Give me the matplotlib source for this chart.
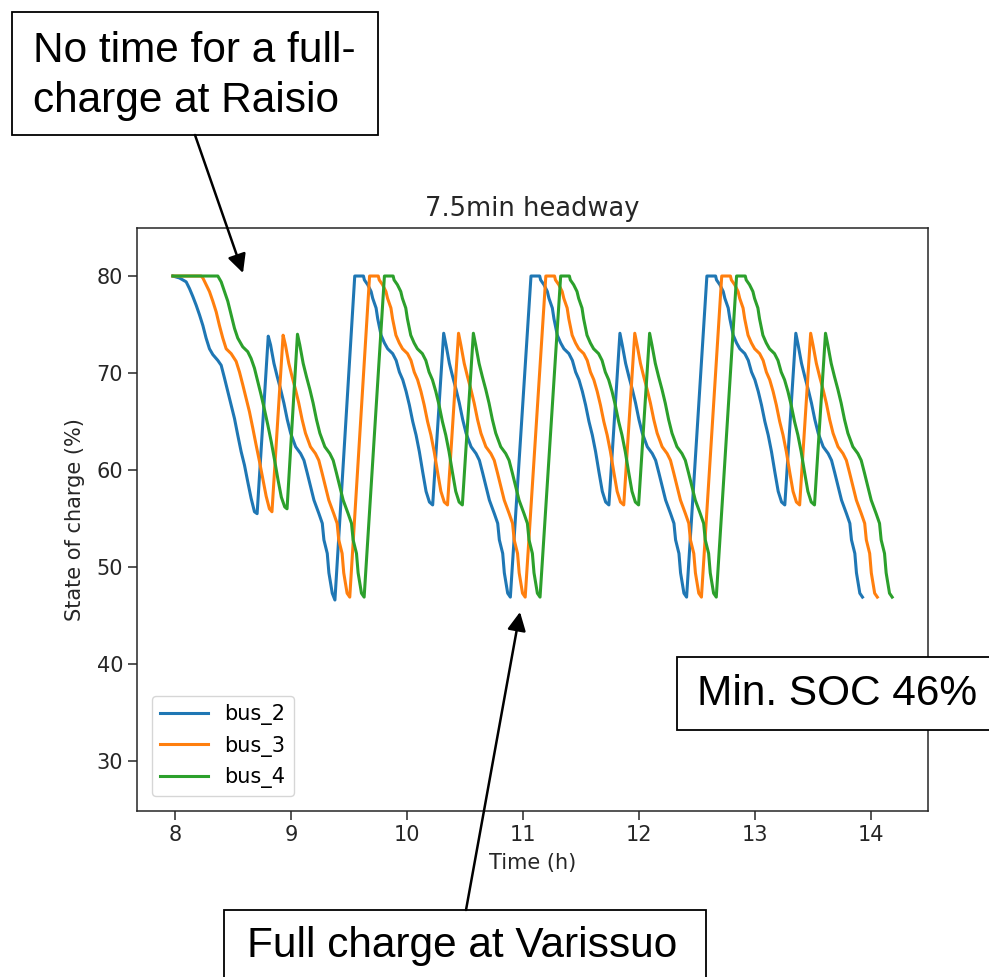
import matplotlib
matplotlib.use("Agg")
import matplotlib.pyplot as plt
from matplotlib.patches import Rectangle, FancyArrowPatch

# ---- State of charge traces (time in hours, SOC in %) ----
bus_2_hours = [
    7.977, 8.034, 8.092, 8.121, 8.149, 8.178, 8.207, 8.236, 8.264, 8.293, 8.322, 8.365,
    8.394, 8.422, 8.451, 8.480, 8.509, 8.537, 8.566, 8.595, 8.623, 8.652, 8.681, 8.704,
    8.800, 8.820, 8.849, 8.878, 8.907, 8.935, 8.964, 8.993, 9.036, 9.079, 9.108, 9.136,
    9.165, 9.194, 9.237, 9.266, 9.280, 9.309, 9.323, 9.352, 9.375,
    9.546, 9.621, 9.629, 9.658, 9.687, 9.701, 9.730, 9.744, 9.773, 9.802, 9.830, 9.873,
    9.903, 9.931, 9.960, 9.989, 10.017, 10.046, 10.075, 10.103, 10.132, 10.161, 10.190,
    10.218, 10.313, 10.333, 10.362, 10.391, 10.420, 10.448, 10.477, 10.506, 10.549,
    10.592, 10.621, 10.649, 10.678, 10.707, 10.750, 10.779, 10.793, 10.822, 10.836,
    10.865, 10.888,
    11.066, 11.141, 11.149, 11.178, 11.207, 11.221, 11.250, 11.264, 11.293, 11.322,
    11.350, 11.393, 11.423, 11.451, 11.480, 11.509, 11.537, 11.566, 11.595, 11.623,
    11.652, 11.681, 11.710, 11.738, 11.833, 11.853, 11.882, 11.911, 11.940, 11.968,
    11.997, 12.026, 12.069, 12.112, 12.141, 12.169, 12.198, 12.227, 12.270, 12.299,
    12.313, 12.342, 12.356, 12.385, 12.408,
    12.583, 12.658, 12.666, 12.695, 12.724, 12.738, 12.767, 12.781, 12.810, 12.839,
    12.867, 12.910, 12.940, 12.968, 12.997, 13.026, 13.054, 13.083, 13.112, 13.140,
    13.169, 13.198, 13.227, 13.255, 13.350, 13.370, 13.399, 13.428, 13.457, 13.485,
    13.514, 13.543, 13.586, 13.629, 13.658, 13.686, 13.715, 13.744, 13.787, 13.816,
    13.830, 13.859, 13.873, 13.902, 13.925,
]
bus_2_soc = [
    80.0, 79.8, 79.4, 78.7, 77.9, 77.0, 76.0, 74.9, 73.6, 72.5, 71.9, 71.3,
    70.8, 69.5, 68.1, 66.7, 65.3, 63.6, 61.9, 60.5, 58.8, 57.1, 55.7, 55.5,
    73.8, 72.9, 71.0, 69.6, 68.3, 66.9, 65.2, 63.8, 62.4, 61.7, 61.0, 59.7,
    58.3, 56.9, 55.5, 54.5, 52.8, 51.4, 49.4, 47.3, 46.6,
    80.0, 80.0, 79.6, 79.1, 78.4, 77.7, 76.7, 75.6, 73.9, 73.1, 72.5, 72.0,
    71.3, 70.1, 69.3, 68.1, 66.7, 65.0, 63.6, 61.9, 59.8, 57.8, 56.7,
    56.4, 74.1, 72.9, 71.0, 69.6, 68.3, 66.9, 65.2, 63.8, 62.4,
    61.7, 61.0, 59.7, 58.3, 56.9, 55.5, 54.5, 52.8, 51.4, 49.4,
    47.3, 46.9,
    80.0, 80.0, 79.6, 79.1, 78.4, 77.7, 76.7, 75.6, 73.9, 73.1,
    72.5, 72.0, 71.3, 70.1, 69.3, 68.1, 66.7, 65.0, 63.6, 61.9,
    59.8, 57.8, 56.7, 56.4, 74.1, 72.9, 71.0, 69.6, 68.3, 66.9,
    65.2, 63.8, 62.4, 61.7, 61.0, 59.7, 58.3, 56.9, 55.5, 54.5,
    52.8, 51.4, 49.4, 47.3, 46.9,
    80.0, 80.0, 79.6, 79.1, 78.4, 77.7, 76.7, 75.6, 73.9, 73.1,
    72.5, 72.0, 71.3, 70.1, 69.3, 68.1, 66.7, 65.0, 63.6, 61.9,
    59.8, 57.8, 56.7, 56.4, 74.1, 72.9, 71.0, 69.6, 68.3, 66.9,
    65.2, 63.8, 62.4, 61.7, 61.0, 59.7, 58.3, 56.9, 55.5, 54.5,
    52.8, 51.4, 49.4, 47.3, 46.9,
]

bus_3_hours = [
    7.977, 8.220, 8.236, 8.264, 8.293, 8.322, 8.351, 8.379, 8.408, 8.437, 8.480, 8.523,
    8.552, 8.580, 8.609, 8.638, 8.667, 8.695, 8.724, 8.753, 8.782, 8.810, 8.832,
    8.928, 8.948, 8.977, 9.006, 9.035, 9.063, 9.092, 9.121, 9.164, 9.207, 9.236, 9.264,
    9.293, 9.322, 9.365, 9.394, 9.408, 9.437, 9.451, 9.480, 9.503,
    9.674, 9.749, 9.757, 9.786, 9.815, 9.829, 9.858, 9.872, 9.901, 9.930, 9.958, 10.001,
    10.031, 10.059, 10.088, 10.117, 10.145, 10.174, 10.203, 10.231, 10.260, 10.289,
    10.318, 10.346, 10.441, 10.461, 10.490, 10.519, 10.548, 10.576, 10.605, 10.634,
    10.677, 10.720, 10.749, 10.777, 10.806, 10.835, 10.878, 10.907, 10.921, 10.950,
    10.964, 10.993, 11.016,
    11.194, 11.269, 11.277, 11.306, 11.335, 11.349, 11.378, 11.392, 11.421, 11.450,
    11.478, 11.521, 11.551, 11.579, 11.608, 11.637, 11.665, 11.694, 11.723, 11.751,
    11.780, 11.809, 11.838, 11.866, 11.961, 11.981, 12.010, 12.039, 12.068, 12.096,
    12.125, 12.154, 12.197, 12.240, 12.269, 12.297, 12.326, 12.355, 12.398, 12.427,
    12.441, 12.470, 12.484, 12.513, 12.536,
    12.711, 12.786, 12.794, 12.823, 12.852, 12.866, 12.895, 12.909, 12.938, 12.967,
    12.995, 13.038, 13.068, 13.096, 13.125, 13.154, 13.182, 13.211, 13.240, 13.268,
    13.297, 13.326, 13.355, 13.383, 13.478, 13.498, 13.527, 13.556, 13.585, 13.613,
    13.642, 13.671, 13.714, 13.757, 13.786, 13.814, 13.843, 13.872, 13.915, 13.944,
    13.958, 13.987, 14.001, 14.030, 14.053,
]
bus_3_soc = [
    80.0, 80.0, 79.8, 79.1, 78.4, 77.4, 76.3, 74.9, 73.6, 72.5, 72.0, 71.2,
    70.1, 68.8, 67.4, 66.0, 64.3, 62.6, 60.9, 59.1, 57.3, 56.0, 55.7,
    73.9, 72.9, 71.0, 69.6, 68.3, 66.9, 65.2, 63.8, 62.4, 61.7, 61.0, 59.7,
    58.3, 56.9, 55.5, 54.5, 52.8, 51.4, 49.4, 47.3, 46.9,
    80.0, 80.0, 79.6, 79.1, 78.4, 77.7, 76.7, 75.6, 73.9, 73.1, 72.5, 72.0,
    71.3, 70.1, 69.3, 68.1, 66.7, 65.0, 63.6, 61.9, 59.8, 57.8,
    56.7, 56.4, 74.1, 72.9, 71.0, 69.6, 68.3, 66.9, 65.2, 63.8,
    62.4, 61.7, 61.0, 59.7, 58.3, 56.9, 55.5, 54.5, 52.8, 51.4,
    49.4, 47.3, 46.9,
    80.0, 80.0, 79.6, 79.1, 78.4, 77.7, 76.7, 75.6, 73.9, 73.1,
    72.5, 72.0, 71.3, 70.1, 69.3, 68.1, 66.7, 65.0, 63.6, 61.9,
    59.8, 57.8, 56.7, 56.4, 74.1, 72.9, 71.0, 69.6, 68.3, 66.9,
    65.2, 63.8, 62.4, 61.7, 61.0, 59.7, 58.3, 56.9, 55.5, 54.5,
    52.8, 51.4, 49.4, 47.3, 46.9,
    80.0, 80.0, 79.6, 79.1, 78.4, 77.7, 76.7, 75.6, 73.9, 73.1,
    72.5, 72.0, 71.3, 70.1, 69.3, 68.1, 66.7, 65.0, 63.6, 61.9,
    59.8, 57.8, 56.7, 56.4, 74.1, 72.9, 71.0, 69.6, 68.3, 66.9,
    65.2, 63.8, 62.4, 61.7, 61.0, 59.7, 58.3, 56.9, 55.5, 54.5,
    52.8, 51.4, 49.4, 47.3, 46.9,
]

bus_4_hours = [
    7.977, 8.365, 8.394, 8.422, 8.451, 8.480, 8.509, 8.537, 8.580, 8.623, 8.652, 8.681,
    8.710, 8.739, 8.768, 8.797, 8.826, 8.855, 8.884, 8.913, 8.942, 8.962,
    9.052, 9.072, 9.101, 9.130, 9.159, 9.187, 9.216, 9.245, 9.288, 9.331, 9.360, 9.388,
    9.417, 9.446, 9.489, 9.518, 9.532, 9.561, 9.575, 9.604, 9.627,
    9.802, 9.877, 9.885, 9.914, 9.943, 9.957, 9.986, 10.000, 10.029, 10.058, 10.086,
    10.129, 10.159, 10.187, 10.216, 10.245, 10.273, 10.302, 10.331, 10.359, 10.388,
    10.417, 10.446, 10.474, 10.569, 10.589, 10.618, 10.647, 10.676, 10.704, 10.733,
    10.762, 10.805, 10.848, 10.877, 10.905, 10.934, 10.963, 11.006, 11.035, 11.049,
    11.078, 11.092, 11.121, 11.144,
    11.322, 11.397, 11.405, 11.434, 11.463, 11.477, 11.506, 11.520, 11.549, 11.578,
    11.606, 11.649, 11.679, 11.707, 11.736, 11.765, 11.793, 11.822, 11.851, 11.879,
    11.908, 11.937, 11.966, 11.994, 12.089, 12.109, 12.138, 12.167, 12.196, 12.224,
    12.253, 12.282, 12.325, 12.368, 12.397, 12.425, 12.454, 12.483, 12.526, 12.555,
    12.569, 12.598, 12.612, 12.641, 12.664,
    12.839, 12.914, 12.922, 12.951, 12.980, 12.994, 13.023, 13.037, 13.066, 13.095,
    13.123, 13.166, 13.196, 13.224, 13.253, 13.282, 13.310, 13.339, 13.368, 13.396,
    13.425, 13.454, 13.483, 13.511, 13.606, 13.626, 13.655, 13.684, 13.713, 13.741,
    13.770, 13.799, 13.842, 13.885, 13.914, 13.942, 13.971, 14.000, 14.043, 14.072,
    14.086, 14.115, 14.129, 14.158, 14.181,
]
bus_4_soc = [
    80.0, 80.0, 79.4, 78.4, 77.4, 76.0, 74.6, 73.6, 72.7, 72.2, 71.5, 70.5,
    69.1, 67.7, 66.2, 64.6, 62.9, 61.0, 59.0, 57.2, 56.2, 56.0,
    74.0, 72.9, 71.0, 69.6, 68.3, 66.9, 65.2, 63.8, 62.4, 61.7, 61.0, 59.7,
    58.3, 56.9, 55.5, 54.5, 52.8, 51.4, 49.4, 47.3, 46.9,
    80.0, 80.0, 79.6, 79.1, 78.4, 77.7, 76.7, 75.6, 73.9, 73.1, 72.5,
    72.0, 71.3, 70.1, 69.3, 68.1, 66.7, 65.0, 63.6, 61.9, 59.8,
    57.8, 56.7, 56.4, 74.1, 72.9, 71.0, 69.6, 68.3, 66.9, 65.2,
    63.8, 62.4, 61.7, 61.0, 59.7, 58.3, 56.9, 55.5, 54.5, 52.8,
    51.4, 49.4, 47.3, 46.9,
    80.0, 80.0, 79.6, 79.1, 78.4, 77.7, 76.7, 75.6, 73.9, 73.1,
    72.5, 72.0, 71.3, 70.1, 69.3, 68.1, 66.7, 65.0, 63.6, 61.9,
    59.8, 57.8, 56.7, 56.4, 74.1, 72.9, 71.0, 69.6, 68.3, 66.9,
    65.2, 63.8, 62.4, 61.7, 61.0, 59.7, 58.3, 56.9, 55.5, 54.5,
    52.8, 51.4, 49.4, 47.3, 46.9,
    80.0, 80.0, 79.6, 79.1, 78.4, 77.7, 76.7, 75.6, 73.9, 73.1,
    72.5, 72.0, 71.3, 70.1, 69.3, 68.1, 66.7, 65.0, 63.6, 61.9,
    59.8, 57.8, 56.7, 56.4, 74.1, 72.9, 71.0, 69.6, 68.3, 66.9,
    65.2, 63.8, 62.4, 61.7, 61.0, 59.7, 58.3, 56.9, 55.5, 54.5,
    52.8, 51.4, 49.4, 47.3, 46.9,
]

bus_names = ["bus_2", "bus_3", "bus_4"]
x_ticks = [8, 9, 10, 11, 12, 13, 14]
y_ticks = [30, 40, 50, 60, 70, 80]

title_text = "7.5min headway"
note_raisio = "No time for a full-\ncharge at Raisio"
note_min_soc = "Min. SOC 46%"
note_varissuo = "Full charge at Varissuo"

W, H = 989, 977
fig = plt.figure(figsize=(W / 100, H / 100), dpi=100)
ax = fig.add_axes([137 / W, 1 - 811 / H, (928 - 137) / W, (811 - 228) / H])

for hours, soc, name in zip([bus_2_hours, bus_3_hours, bus_4_hours],
                            [bus_2_soc, bus_3_soc, bus_4_soc], bus_names):
    ax.plot(hours, soc, lw=2.2, label=name)

ax.set_xlim(7.668, 14.49)
ax.set_ylim(24.85, 84.95)
ax.set_xticks(x_ticks)
ax.set_yticks(y_ticks)
ax.tick_params(labelsize=15, length=6.5, width=1.1, colors="#262626", labelcolor="#262626")
for sp in ax.spines.values():
    sp.set_linewidth(1.1)
    sp.set_color("#262626")
ax.set_xlabel("Time (h)", fontsize=15, color="#262626", labelpad=6)
ax.set_ylabel("State of charge (%)", fontsize=15, color="#262626", labelpad=8)
ax.set_title(title_text, fontsize=18.5, color="#262626", pad=9)
ax.legend(loc="lower left", fontsize=15, borderaxespad=0.7, handlelength=2.3)

# ---- Callout boxes and arrows drawn in figure pixel space ----
def px_box(x0, y0, x1, y1):
    r = Rectangle((x0 / W, 1 - y1 / H), (x1 - x0) / W, (y1 - y0) / H,
                  transform=fig.transFigure, facecolor="white", edgecolor="black",
                  lw=1.3, zorder=5)
    fig.add_artist(r)

def px_arrow(xa, ya, xb, yb):
    a = FancyArrowPatch((xa / W, 1 - ya / H), (xb / W, 1 - yb / H),
                        transform=fig.transFigure, arrowstyle="-|>",
                        mutation_scale=28, lw=1.8, color="black",
                        shrinkA=0, shrinkB=0, zorder=6)
    fig.add_artist(a)

box_font = dict(family=["Liberation Sans", "DejaVu Sans"], fontsize=30.5, color="black", zorder=7)

px_box(12, 12, 378, 135)
fig.text(33 / W, 1 - 76 / H, note_raisio, ha="left", va="center",
         linespacing=1.32, **box_font)
px_arrow(195, 135, 243, 273)

px_box(677, 657, 1000, 730)
fig.text(697 / W, 1 - 694 / H, note_min_soc, ha="left", va="center", **box_font)

px_box(224, 910, 706, 1000)
fig.text(247 / W, 1 - 946 / H, note_varissuo, ha="left", va="center", **box_font)
px_arrow(466, 910, 520, 612)

fig.savefig("out.png", dpi=100)
